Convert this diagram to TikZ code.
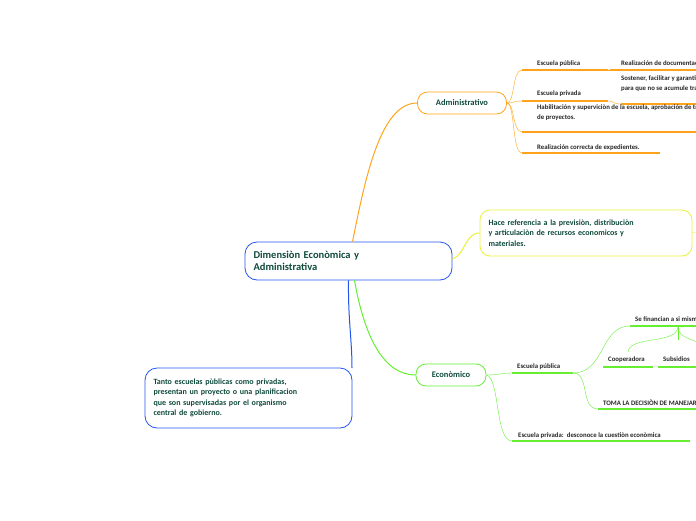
\documentclass[tikz,border=0pt]{standalone}
\usepackage{fontspec}
\setmainfont{Carlito}
\usetikzlibrary{calc,positioning}
\definecolor{orng}{HTML}{FFA31A}
\definecolor{grn}{HTML}{66EE33}
\definecolor{ylw}{HTML}{E8F03A}
\definecolor{blu}{HTML}{2255EE}
\definecolor{txt}{HTML}{0F4A3C}
\tikzstyle{mainbox}=[draw=blu, rounded corners=12pt, minimum width=207pt, minimum height=38pt, text width=190pt, align=left, text=txt, font=\fontsize{10.5}{12.5}\selectfont\bfseries, line width=0.8pt]
\tikzstyle{branch}=[rounded corners=10pt, line width=0.8pt, text=txt, font=\fontsize{8.5}{10}\selectfont\bfseries, inner sep=0pt]
\tikzstyle{leaf}=[anchor=base west, inner sep=0pt, font=\fontsize{6.8}{9.5}\selectfont\bfseries, text=black!85, align=left]
\begin{document}
\begin{tikzpicture}[x=1pt,y=-1pt]
\useasboundingbox (0,0) rectangle (696,520);
\clip (0,0) rectangle (696,520);

\node (central) [mainbox] at (348.5,261) {Dimensiòn Econòmica y\\Administrativa};

% administrativo
\node (admin) [branch, draw=orng, minimum width=89pt, minimum height=22pt] at (462,103) {Administrativo};
\draw[orng, line width=1pt] (central.north) ++(4,0) .. controls (365,180) and (380,103) .. (admin.west);
\begin{scope}[orng]
\node (apub) [leaf] at (537,65) {Escuela pública};
\draw[line width=1.2pt] (522,70) -- (608,70); \draw[line width=1.2pt] (610,70) -- (696,70);
\node (adoc) [leaf] at (621,65) {Realización de documentación};
\draw (608,70) -- (610,70);
\node (apriv) [leaf] at (537,95) {Escuela privada};
\draw[line width=1.2pt] (522,101) -- (608,101); \draw[line width=1.2pt] (621,104) -- (696,104);
\draw (608,101) .. controls (615,101) and (612,104) .. (621,104);
\node (asost) [leaf] at (621,90) {Sostener, facilitar y garantizar\\para que no se acumule trabajo};
\node (ahab) [leaf] at (537,119) {Habilitación y superviciòn de la escuela, aprobación de tramites\\de proyectos.};
\draw[line width=1.2pt] (522,132) -- (696,132);
\node (areal) [leaf] at (537,149) {Realización correcta de expedientes.};
\draw[line width=1.2pt] (522,153) -- (660,153);
\draw (admin.east) .. controls (515,103) and (512,70) .. (522,70);
\draw (admin.east) .. controls (515,103) and (512,101) .. (522,101);
\draw (admin.east) .. controls (515,103) and (512,132) .. (522,132);
\draw (admin.east) .. controls (515,103) and (512,153) .. (522,153);
\end{scope}

% referencia
\node (ref) [branch, draw=ylw, minimum width=212pt, minimum height=46pt, text width=195pt, align=left, font=\fontsize{8}{10.5}\selectfont\bfseries] at (586,233) {Hace referencia a la previsiòn, distribuciòn\\y articulaciòn de recursos economicos y\\materiales.};
\draw[ylw, line width=1pt] (central.east) ++(0,-2) .. controls (465,255) and (465,233) .. (ref.west);
\draw[ylw] (ref.east) -- (696,232);

% economico
\node (eco) [branch, draw=grn, minimum width=70pt, minimum height=22pt] at (451,375) {Econòmico};
\draw[grn, line width=1pt] (central.south) ++(6,0) .. controls (365,340) and (385,375) .. (eco.west);
\begin{scope}[grn]
\node (epub) [leaf] at (517,368) {Escuela pública};
\draw[line width=1.2pt] (512,373) -- (573,373);
\draw (eco.east) .. controls (500,375) and (500,373) .. (512,373);
\node (efin) [leaf] at (635,321) {Se financian a si mismas};
\draw[line width=1.2pt] (630,326) -- (696,326);
\draw (573,373) .. controls (605,373) and (600,326) .. (630,326);
\node (ecoop) [leaf] at (608,361) {Cooperadora};
\draw[line width=1.2pt] (603,367) -- (653,367);
\node (esub) [leaf] at (663,361) {Subsidios};
\draw[line width=1.2pt] (658,367) -- (696,367);
\draw (678,326) .. controls (678,345) and (630,335) .. (628,352);
\draw (678,326) -- (678,340);
\draw (678,326) .. controls (678,340) and (696,338) .. (700,345);
\node (etoma) [leaf] at (603,405) {TOMA LA DECISIÒN DE MANEJAR};
\draw[line width=1.2pt] (598,409) -- (696,409);
\draw (573,373) .. controls (590,373) and (580,409) .. (598,409);
\node (epriv) [leaf] at (518,437) {Escuela privada:\ \ desconoce la cuestiòn econòmica};
\draw[line width=1.2pt] (512,441) -- (690,441);
\draw (eco.east) .. controls (500,378) and (495,441) .. (512,441);
\end{scope}

% tanto
\node (tanto) [mainbox, minimum height=60pt, font=\fontsize{8}{10.5}\selectfont\bfseries] at (248.5,398) {Tanto escuelas pùblicas como privadas,\\presentan un proyecto o una planificacion\\que son supervisadas por el organismo\\central de gobierno.};
\draw[blu, line width=1pt] (central.south) .. controls (348,320) and (352,340) .. (352,368);
\end{tikzpicture}
\end{document}
